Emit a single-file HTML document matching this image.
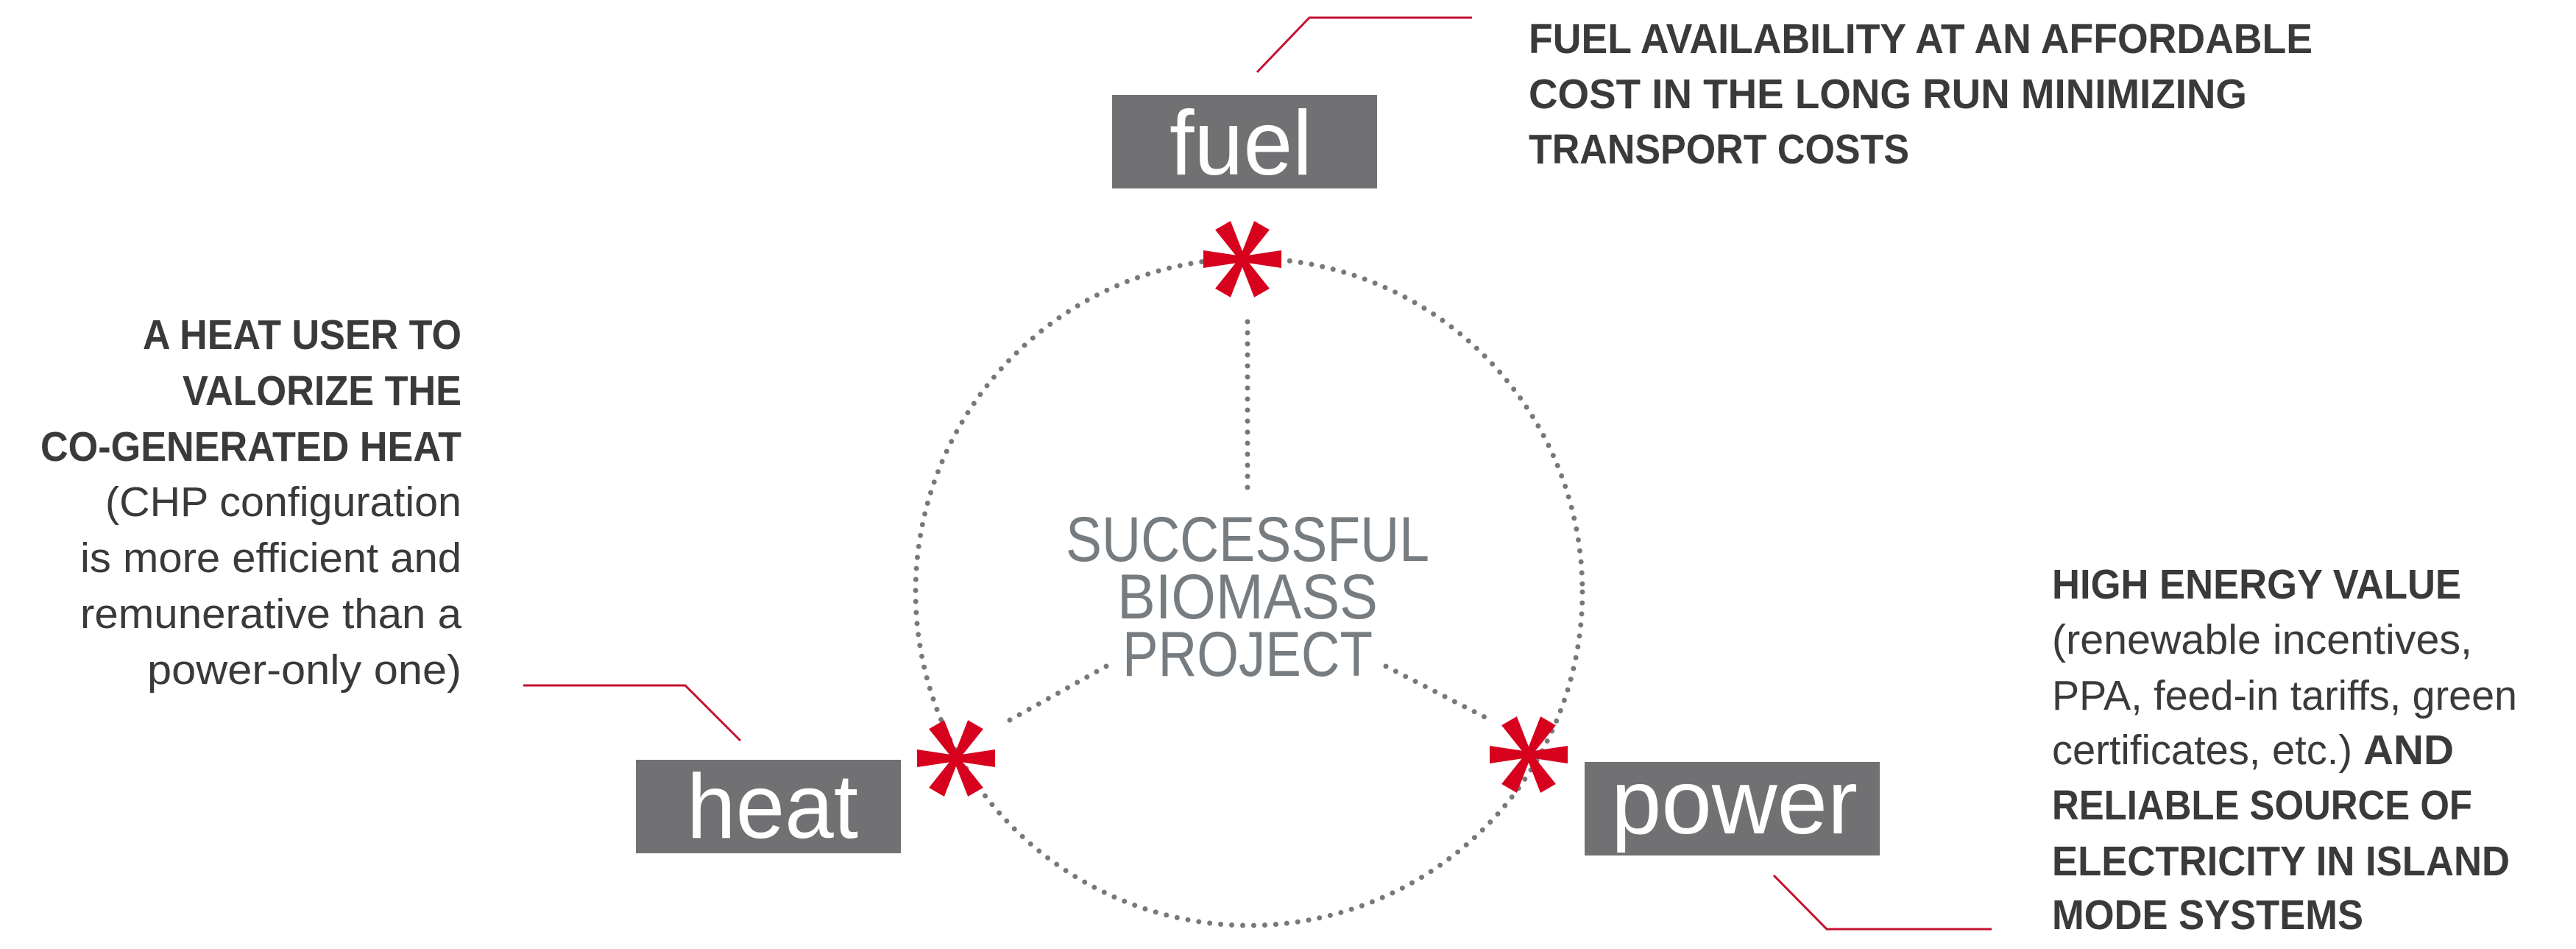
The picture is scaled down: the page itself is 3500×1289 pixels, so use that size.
<!DOCTYPE html>
<html><head><meta charset="utf-8"><style>
html,body{margin:0;padding:0;background:#fff;}
svg{display:block;}
.b{font-family:"Liberation Sans",sans-serif;font-weight:bold;fill:#3a3a3c;font-size:57px;}
.n{font-family:"Liberation Sans",sans-serif;fill:#3a3a3c;font-size:57px;}
.w{font-family:"Liberation Sans",sans-serif;fill:#fff;font-size:124px;}
.c{font-family:"Liberation Sans",sans-serif;fill:#777c80;font-size:86px;}
</style></head><body>
<svg width="3500" height="1289" viewBox="0 0 3500 1289" xmlns="http://www.w3.org/2000/svg">
<defs>
<g id="ast" fill="#d7001d">
<polygon id="arm" points="0,-4 53,-12 53,12 0,4"/>
<use href="#arm" transform="rotate(180)"/>
<use href="#arm" transform="rotate(60)"/>
<use href="#arm" transform="rotate(120)"/>
<use href="#arm" transform="rotate(240)"/>
<use href="#arm" transform="rotate(300)"/>
<circle r="7"/>
</g>
</defs>
<g stroke="#77787a" stroke-width="7" stroke-linecap="round" stroke-dasharray="0 15" fill="none">
<circle cx="1697" cy="804" r="453"/>
<line x1="1695" y1="437" x2="1695" y2="665"/>
<line x1="1503" y1="905" x2="1363" y2="983"/>
<line x1="1883" y1="905" x2="2029" y2="980"/>
</g>
<g stroke="#c4122f" stroke-width="3" fill="none">
<polyline points="1708,98 1779,24 2000,24"/>
<polyline points="711,931 931,931 1006,1006"/>
<polyline points="2410,1189 2482,1262 2706,1262"/>
</g>
<rect x="1511" y="129" width="360" height="127" fill="#717173"/>
<rect x="864" y="1032" width="360" height="127" fill="#717173"/>
<rect x="2153" y="1035" width="401" height="127" fill="#717173"/>
<text class="w" x="1589" y="237" textLength="194" lengthAdjust="spacingAndGlyphs">fuel</text>
<text class="w" x="933" y="1138" textLength="233" lengthAdjust="spacingAndGlyphs">heat</text>
<text class="w" x="2189" y="1132" textLength="335" lengthAdjust="spacingAndGlyphs">power</text>
<use href="#ast" x="1688" y="352"/>
<use href="#ast" x="1299" y="1030"/>
<use href="#ast" x="2077" y="1025"/>
<text class="c" x="1448" y="762" textLength="494" lengthAdjust="spacingAndGlyphs">SUCCESSFUL</text>
<text class="c" x="1518" y="840" textLength="354" lengthAdjust="spacingAndGlyphs">BIOMASS</text>
<text class="c" x="1525" y="918" textLength="340" lengthAdjust="spacingAndGlyphs">PROJECT</text>
<text class="b" x="2077" y="72" textLength="1065" lengthAdjust="spacingAndGlyphs">FUEL AVAILABILITY AT AN AFFORDABLE</text>
<text class="b" x="2077" y="147" textLength="976" lengthAdjust="spacingAndGlyphs">COST IN THE LONG RUN MINIMIZING</text>
<text class="b" x="2077" y="222" textLength="517" lengthAdjust="spacingAndGlyphs">TRANSPORT COSTS</text>
<text class="b" x="194" y="474" textLength="433" lengthAdjust="spacingAndGlyphs">A HEAT USER TO</text>
<text class="b" x="248" y="550" textLength="379" lengthAdjust="spacingAndGlyphs">VALORIZE THE</text>
<text class="b" x="55" y="626" textLength="572" lengthAdjust="spacingAndGlyphs">CO-GENERATED HEAT</text>
<text class="n" x="143" y="701" textLength="484" lengthAdjust="spacingAndGlyphs">(CHP configuration</text>
<text class="n" x="109" y="777" textLength="518" lengthAdjust="spacingAndGlyphs">is more efficient and</text>
<text class="n" x="109" y="853" textLength="518" lengthAdjust="spacingAndGlyphs">remunerative than a</text>
<text class="n" x="200" y="929" textLength="427" lengthAdjust="spacingAndGlyphs">power-only one)</text>
<text class="b" x="2788" y="813" textLength="556" lengthAdjust="spacingAndGlyphs">HIGH ENERGY VALUE</text>
<text class="n" x="2788" y="888" textLength="571" lengthAdjust="spacingAndGlyphs">(renewable incentives,</text>
<text class="n" x="2788" y="964" textLength="632" lengthAdjust="spacingAndGlyphs">PPA, feed-in tariffs, green</text>
<text class="n" x="2788" y="1038" textLength="408" lengthAdjust="spacingAndGlyphs">certificates, etc.)</text>
<text class="b" x="3211" y="1038" textLength="123" lengthAdjust="spacingAndGlyphs">AND</text>
<text class="b" x="2788" y="1113" textLength="571" lengthAdjust="spacingAndGlyphs">RELIABLE SOURCE OF</text>
<text class="b" x="2788" y="1189" textLength="622" lengthAdjust="spacingAndGlyphs">ELECTRICITY IN ISLAND</text>
<text class="b" x="2788" y="1262" textLength="423" lengthAdjust="spacingAndGlyphs">MODE SYSTEMS</text>
</svg>
</body></html>
